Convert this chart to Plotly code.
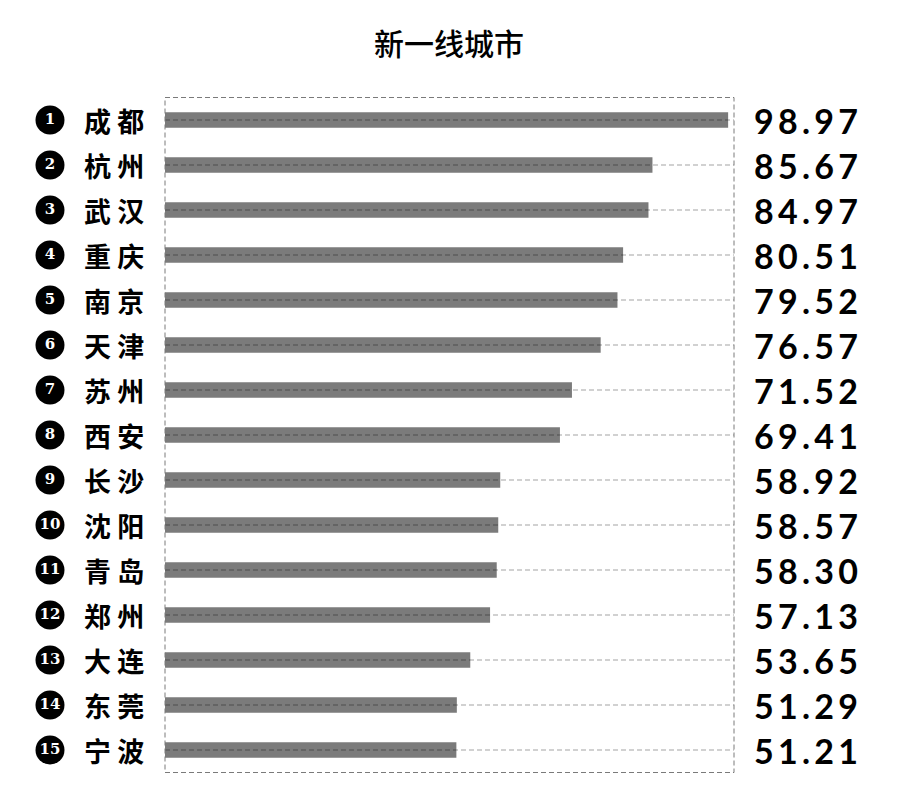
import plotly.graph_objects as go

cities = ["成都", "杭州", "武汉", "重庆", "南京", "天津", "苏州", "西安",
          "长沙", "沈阳", "青岛", "郑州", "大连", "东莞", "宁波"]
scores = [98.97, 85.67, 84.97, 80.51, 79.52, 76.57, 71.52, 69.41,
          58.92, 58.57, 58.30, 57.13, 53.65, 51.29, 51.21]
ranks = list(range(1, len(cities) + 1))
title = "新一线城市"

W, H = 900, 796
OFF = 8  # page body margin shifts the figure
cjk = "Noto Sans CJK SC"

# plot box in pixels (target page coordinates)
x0, x1 = 165 - OFF, 734 - OFF
y_top, y_bot = 97.5 - OFF, 772.5 - OFF
dom_x = [x0 / W, x1 / W]
dom_y = [(H - y_bot) / H, (H - y_top) / H]

fig = go.Figure()

fig.add_trace(go.Bar(
    x=scores, y=cities, orientation="h",
    marker=dict(color="#7b7b7b", line=dict(width=0)),
    width=0.34, hoverinfo="skip",
))

# black numbered discs on the left
fig.add_trace(go.Scatter(
    x=[0.5] * len(ranks), y=cities, xaxis="x2", yaxis="y",
    mode="markers+text",
    marker=dict(size=29, color="black", line=dict(width=0)),
    text=[str(r) for r in ranks],
    textposition="middle center",
    textfont=dict(color="white", size=15, family="DejaVu Serif", weight="bold"),
    hoverinfo="skip", cliponaxis=False,
))

shapes = []
# dashed guide lines through each bar, above the bars
for c in cities:
    shapes.append(dict(type="line", xref="x domain", yref="y", x0=0, x1=1,
                       y0=c, y1=c, layer="above",
                       line=dict(color="rgba(0,0,0,0.36)", width=1, dash="5px,3px")))
# dashed frame
shapes.append(dict(type="rect", xref="x domain", yref="y domain",
                   x0=0, x1=1, y0=0, y1=1, layer="above",
                   line=dict(color="#7a7a7a", width=1, dash="5px,3px")))

annotations = []
for c in cities:
    annotations.append(dict(
        x=(146 - OFF) / W, xref="paper", y=c, yref="y", xanchor="right",
        text=" ".join(c), showarrow=False,
        font=dict(family=cjk, size=27, color="black", weight="bold"),
    ))
for c, v in zip(cities, scores):
    annotations.append(dict(
        x=(860 - OFF) / W, xref="paper", y=c, yref="y", xanchor="right",
        text="\u2009".join(f"{v:.2f}"), showarrow=False,
        font=dict(family="Lato", size=34, color="black", weight="bold"),
    ))
annotations.append(dict(
    x=(449 - OFF) / W, xref="paper", y=(H - 42 + OFF) / H, yref="paper",
    xanchor="center", yanchor="middle",
    text=title, showarrow=False,
    font=dict(family=cjk, size=30, color="black", weight=500),
))

fig.update_layout(
    width=W, height=H,
    margin=dict(l=0, r=0, t=0, b=0),
    paper_bgcolor="white", plot_bgcolor="white",
    showlegend=False,
    xaxis=dict(domain=dom_x, range=[0, 100], showgrid=False, zeroline=False,
               showticklabels=False, showline=False, fixedrange=True),
    xaxis2=dict(domain=[(37 - OFF) / W, (63 - OFF) / W], range=[0, 1], anchor="y",
                showgrid=False, zeroline=False, showticklabels=False, showline=False),
    yaxis=dict(domain=dom_y, categoryorder="array", categoryarray=cities,
               range=[len(cities) - 0.5, -0.5], showgrid=False, zeroline=False,
               showticklabels=False, showline=False),
    shapes=shapes,
    annotations=annotations,
)

fig.write_html("out.html")
